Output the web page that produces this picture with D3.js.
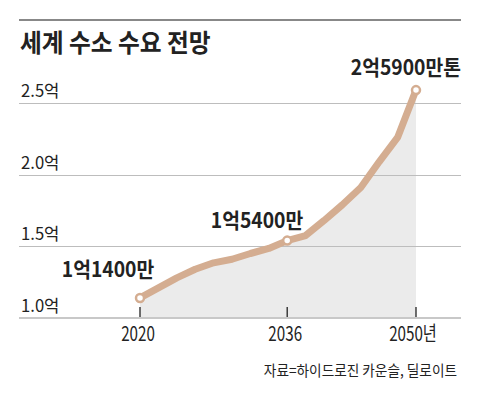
<!DOCTYPE html>
<html>
<head>
<meta charset="utf-8">
<script src="https://cdn.jsdelivr.net/npm/d3@7"></script>
<style>
  body { margin: 0; background: #fff; }
  text { font-family: "Noto Sans CJK KR", "Noto Sans", sans-serif; fill: #222; }
</style>
</head>
<body>
<div id="chart"></div>
<script>
const title = "세계 수소 수요 전망"
const source = "자료=하이드로진 카운슬, 딜로이트"

// 수요 (억 톤)
const years = [2020, 2024, 2026, 2028, 2030, 2032, 2034, 2036, 2038, 2040, 2042, 2044, 2046, 2048, 2050]
const demand = [1.14, 1.28, 1.34, 1.385, 1.41, 1.45, 1.485, 1.54, 1.575, 1.68, 1.79, 1.91, 2.09, 2.26, 2.59]

const yTicks = [1.0, 1.5, 2.0, 2.5]
const yTickLabels = ["1.0억", "1.5억", "2.0억", "2.5억"]
const xTicks = [2020, 2036, 2050]
const xTickLabels = ["2020", "2036", "2050년"]

const marked = [2020, 2036, 2050]
const markLabels = ["1억1400만", "1억5400만", "2억5900만톤"]

const width = 480
const height = 394
const lineColor = '#d4ad91'

const svg = d3.select("#chart").append("svg")
  .attr("width", width)
  .attr("height", height)

const x = d3.scaleLinear().domain([2020, 2050]).range([140, 416])
const y = d3.scaleLinear().domain([1, 2.5]).range([318, 103])

// condensed text helper
const label = (g, str, tx, ty, size, weight, anchor, sx) => g.append("text")
  .attr("transform", `translate(${tx},${ty}) scale(${sx},1)`)
  .attr("text-anchor", anchor)
  .style("font-size", size + "px")
  .style("font-weight", weight)
  .text(str)

// top rule
svg.append("rect")
  .attr("x", 19).attr("y", 19)
  .attr("width", 442).attr("height", 2)
  .attr("fill", "#888")

label(svg, title, 20, 52, 25.5, 700, "start", 0.93)

const data = years.map((d, i) => ({ year: d, value: demand[i] }))

// area under the line
svg.append("path")
  .datum(data)
  .attr("fill", "#ebebeb")
  .attr("d", d3.area().x(d => x(d.year)).y0(y(1)).y1(d => y(d.value)))

// gridlines
svg.append("g")
  .selectAll("line")
  .data(yTicks.slice(1))
  .join("line")
    .attr("x1", 19).attr("x2", 461)
    .attr("y1", d => Math.round(y(d)) + 0.5)
    .attr("y2", d => Math.round(y(d)) + 0.5)
    .attr("stroke", "#bdbdbd")
    .attr("stroke-width", 1)

// baseline
svg.append("line")
  .attr("x1", 19).attr("x2", 461)
  .attr("y1", y(1)).attr("y2", y(1))
  .attr("stroke", "#c8c8c8")
  .attr("stroke-width", 2)

yTicks.forEach((d, i) => {
  label(svg, yTickLabels[i], 21, y(d) - 6, 17, 400, "start", 0.98)
})

// x ticks
svg.append("g")
  .selectAll("line")
  .data(xTicks)
  .join("line")
    .attr("x1", d => x(d)).attr("x2", d => x(d))
    .attr("y1", y(1) - 11).attr("y2", y(1) - 1)
    .attr("stroke", "#222")
    .attr("stroke-width", 1.3)

xTicks.forEach((d, i) => {
  label(svg, xTickLabels[i], x(d) - (i === 2 ? 3 : 2), 341, 20, 400, "middle", 0.76)
})

// line
svg.append("path")
  .datum(data)
  .attr("fill", "none")
  .attr("stroke", lineColor)
  .attr("stroke-width", 7)
  .attr("stroke-linejoin", "round")
  .attr("stroke-linecap", "round")
  .attr("d", d3.line().x(d => x(d.year)).y(d => y(d.value)))

svg.append("g")
  .selectAll("circle")
  .data(data.filter(d => marked.includes(d.year)))
  .join("circle")
    .attr("cx", d => x(d.year))
    .attr("cy", d => y(d.value))
    .attr("r", 4)
    .attr("fill", "#fff")
    .attr("stroke", lineColor)
    .attr("stroke-width", 2.5)

// value labels
label(svg, markLabels[0], 108, 277, 21, 700, "middle", 0.92)
label(svg, markLabels[1], 257, 228, 21, 700, "middle", 0.92)
label(svg, markLabels[2], 461, 75, 21, 700, "end", 0.92)

label(svg, source, 457, 376, 15, 400, "end", 0.91)
</script>
</body>
</html>
